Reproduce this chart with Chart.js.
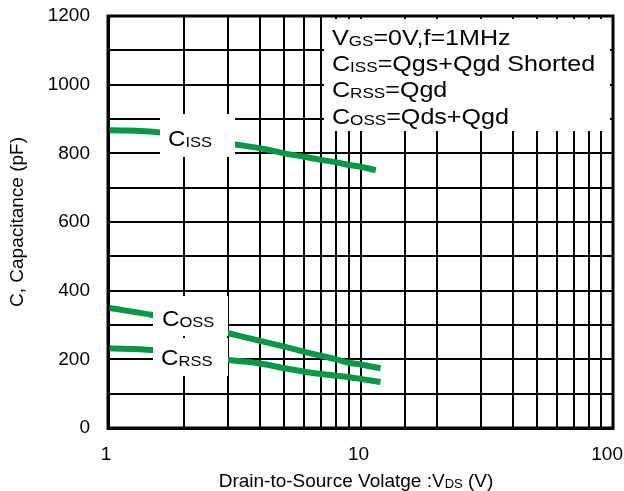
<!DOCTYPE html>
<html>
<head>
<meta charset="utf-8">
<style>
  html, body { margin: 0; padding: 0; background: #fff; }
  #wrap { width: 624px; height: 491px; }
</style>
<script src="https://cdn.jsdelivr.net/npm/chart.js@4.4.1/dist/chart.umd.min.js"></script>
</head>
<body>
<div id="wrap"><canvas id="cap-chart" width="624" height="491"></canvas></div>
<script>
// capacitance vs drain-source voltage
const cissVds = [1, 1.6, 3.1, 4, 5, 6, 7, 8, 9, 10, 11.5];
const cissPf = [868, 861, 827, 815, 800, 790, 781, 774, 766, 761, 751];

const vds = [1, 1.5, 3, 4, 5, 6, 7, 8, 9, 10, 12];
const cossPf = [350, 329, 276, 254, 237, 222, 210, 200, 190, 185, 174];
const crssPf = [232, 227, 198, 188, 174, 164, 157, 152, 148, 143, 134];

const xTickLabels = [1, 10, 100];
const yMin = 0, yMax = 1200, yStep = 100;

const GREEN = "#009a46";
const FONT = "'Liberation Sans', Arial, sans-serif";

function toPoints(xs, ys) {
    return xs.map((x, i) => ({ x: x, y: ys[i] }));
}

// draw text made of runs: [text, size, isSub], optionally stretched sideways
function drawRuns(ctx, runs, x, y, align, stretch) {
    stretch = stretch || 1;
    let total = 0;
    runs.forEach(r => {
        ctx.font = r[1] + "px " + FONT;
        total += ctx.measureText(r[0]).width;
    });
    ctx.save();
    ctx.translate(x, y);
    ctx.scale(stretch, 1);
    let cx = align === "center" ? -total / 2 : 0;
    ctx.textAlign = "left";
    ctx.textBaseline = "alphabetic";
    runs.forEach(r => {
        ctx.font = r[1] + "px " + FONT;
        ctx.fillText(r[0], cx, r[2] ? 1 : 0);
        cx += ctx.measureText(r[0]).width;
    });
    ctx.restore();
}

const overlay = {
    id: "overlay",
    afterDatasetsDraw(chart) {
        const ctx = chart.ctx;
        const a = chart.chartArea;
        const xs = chart.scales.x;
        ctx.save();
        ctx.fillStyle = "#fff";

        // curve labels (white boxes hide grid and curve)
        ctx.fillRect(160, 114, 75, 43);
        ctx.fillRect(153, 296, 75, 40);
        ctx.fillRect(153, 338, 75, 38);
        // condition box
        ctx.fillRect(324, a.top + 3, a.right - 327, 112);

        ctx.fillStyle = "#000";
        drawRuns(ctx, [["C", 22, 0], ["ISS", 15, 1]], 168, 146, "left", 1.1);
        drawRuns(ctx, [["C", 22, 0], ["OSS", 15, 1]], 162, 326, "left", 1.1);
        drawRuns(ctx, [["C", 22, 0], ["RSS", 15, 1]], 161, 365, "left", 1.1);

        const lx = 332, st = 1.14;
        drawRuns(ctx, [["V", 22, 0], ["GS", 15, 1], ["=0V,f=1MHz", 22, 0]], lx, 45, "left", st);
        drawRuns(ctx, [["C", 22, 0], ["ISS", 15, 1], ["=Qgs+Qgd Shorted", 22, 0]], lx, 71, "left", st);
        drawRuns(ctx, [["C", 22, 0], ["RSS", 15, 1], ["=Qgd", 22, 0]], lx, 97, "left", st);
        drawRuns(ctx, [["C", 22, 0], ["OSS", 15, 1], ["=Qds+Qgd", 22, 0]], lx, 124, "left", st);

        // frame
        ctx.strokeStyle = "#000";
        ctx.lineWidth = 3;
        ctx.strokeRect(a.left, a.top, a.right - a.left, a.bottom - a.top);

        // x tick labels
        ctx.font = "19px " + FONT;
        ctx.textBaseline = "middle";
        ctx.textAlign = "left";
        xTickLabels.forEach(v => {
            const s = String(v);
            const w = ctx.measureText(s).width;
            let px = xs.getPixelForValue(v) - w / 2 - 2;
            if (px + w > chart.width - 1) px = chart.width - 1 - w;
            ctx.fillText(s, px, 455);
        });

        // axis titles
        drawRuns(ctx, [["Drain-to-Source Volatge :V", 19, 0], ["DS", 13, 1], [" (V)", 19, 0]],
            356, 487, "center");

        ctx.translate(23, 222);
        ctx.rotate(-Math.PI / 2);
        drawRuns(ctx, [["C, Capacitance (pF)", 19, 0]], 0, 0, "center");
        ctx.restore();
    }
};

const lineStyle = {
    borderColor: GREEN,
    backgroundColor: GREEN,
    borderWidth: 6,
    pointRadius: 0,
    fill: false,
    cubicInterpolationMode: "monotone"
};

const ctx = document.getElementById("cap-chart").getContext("2d");
let chart = new Chart(ctx, {
    type: "line",
    data: {
        datasets: [
            Object.assign({ label: "Ciss", data: toPoints(cissVds, cissPf) }, lineStyle),
            Object.assign({ label: "Coss", data: toPoints(vds, cossPf) }, lineStyle),
            Object.assign({ label: "Crss", data: toPoints(vds, crssPf) }, lineStyle)
        ]
    },
    options: {
        responsive: false,
        animation: false,
        layout: { padding: { left: 0, top: 16, right: 11, bottom: 0 } },
        plugins: {
            legend: { display: false },
            tooltip: { enabled: false }
        },
        scales: {
            x: {
                type: "logarithmic",
                min: 1,
                max: 100,
                ticks: { display: false },
                grid: { color: "#000", lineWidth: 2, drawTicks: false },
                border: { color: "#000", width: 3 },
                afterFit: s => {
                    s.height = 63;
                    s.paddingLeft = 0;
                    s.paddingRight = 0;
                }
            },
            y: {
                type: "linear",
                min: yMin,
                max: yMax,
                ticks: {
                    stepSize: yStep,
                    color: "#000",
                    padding: 18,
                    font: { size: 19, family: FONT },
                    callback: v => (v % 200 === 0 ? v : "")
                },
                grid: { color: "#000", lineWidth: 2, drawTicks: false },
                border: { color: "#000", width: 3 },
                afterFit: s => {
                    s.width = 108;
                    s.paddingTop = 0;
                    s.paddingBottom = 0;
                }
            }
        }
    },
    plugins: [overlay]
});
</script>
</body>
</html>
